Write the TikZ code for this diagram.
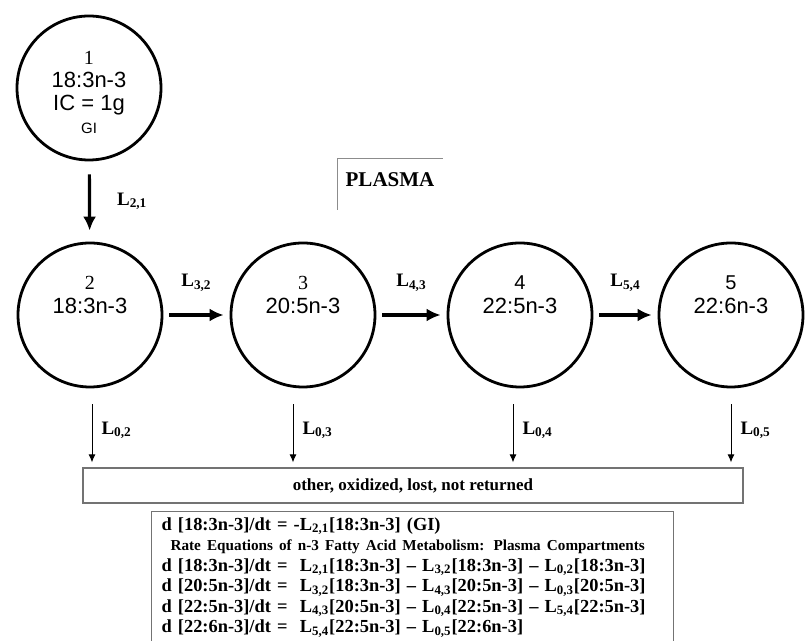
\documentclass[tikz,border=0pt]{standalone}
\usepackage{fontspec}
\setmainfont{Liberation Serif}
\setsansfont{Liberation Sans}
\usetikzlibrary{arrows.meta,calc,positioning}

\begin{document}
\begin{tikzpicture}[x=.5pt,y=-.5pt,>=Latex,
  pool/.style={circle,draw,line width=1.4pt,minimum size=72pt,inner sep=0pt},
  pooltxt/.style={align=center,font=\sffamily\fontsize{11}{12}\selectfont,inner sep=0pt},
  flow/.style={-{Latex[length=7pt,width=6.5pt]},line width=1.6pt,shorten <=3pt,shorten >=3pt},
  loss/.style={-{Latex[length=4pt,width=3.5pt]},line width=.5pt,shorten <=8pt,shorten >=2.5pt},
  rate/.style={font=\bfseries\fontsize{9.5}{11}\selectfont,inner sep=1pt},
  frame/.style={draw=black!55,line width=.6pt}]
 \useasboundingbox (0,0) rectangle (805,641);
 % compartments
 \node[pool] (c1) at (89,88) {};
 \node[pool] (c2) at (90,315) {};
 \node[pool] (c3) at (303,315) {};
 \node[pool] (c4) at (520,315) {};
 \node[pool] (c5) at (731,315) {};
 \node[pooltxt,font=\sffamily\fontsize{11}{11.5}\selectfont] (t1) at ([yshift=-2pt]c1.center)
   {{\rmfamily\fontsize{10}{11.5}\selectfont 1}\\18:3n-3\\IC = 1g\\{\fontsize{7.5}{11.5}\selectfont GI}};
 \node[pooltxt] (t2) at ([yshift=10pt]c2.center) {{\rmfamily\fontsize{10}{12}\selectfont 2}\\18:3n-3};
 \node[pooltxt] (t3) at ([yshift=10pt]c3.center) {{\rmfamily\fontsize{10}{12}\selectfont 3}\\20:5n-3};
 \node[pooltxt] (t4) at ([yshift=10pt]c4.center) {{\fontsize{10}{12}\selectfont 4}\\22:5n-3};
 \node[pooltxt] (t5) at ([yshift=10pt]c5.center) {{\fontsize{10}{12}\selectfont 5}\\22:6n-3};
 \node[font=\bfseries\fontsize{10.5}{12}\selectfont] (plasma) at (390,180) {PLASMA};
 \draw[black!45,line width=.5pt] (337,210) |- (443,159);
 % transfers
 \draw[flow,shorten <=6.5pt,shorten >=5.5pt] (c1) -- node[rate,right=12pt]{L\textsubscript{2,1}} (c2);
 \draw[flow] (c2) -- node[rate,above=10pt]{L\textsubscript{3,2}} (c3);
 \draw[flow] (c3) -- node[rate,above=10pt]{L\textsubscript{4,3}} (c4);
 \draw[flow] (c4) -- node[rate,above=10pt]{L\textsubscript{5,4}} (c5);
 % losses
 \node[frame,minimum width=330pt,minimum height=17.5pt,
   font=\bfseries\fontsize{8.5}{10}\selectfont] (sink) at (413,485.5) {other, oxidized, lost, not returned};
 \foreach \k/\dx in {2/1,3/-5,4/-3.5,5/0}{
  \draw[loss] ([xshift=\dx pt]c\k.south) -- ([xshift=\dx pt]c\k.south |- sink.north)
    node[rate,pos=.53,right=3.5pt]{L\textsubscript{0,\k}};
 }
 % rate equations
 \node[frame,anchor=north west,inner xsep=5pt,inner ysep=3pt,text width=251pt,align=left,
   font=\bfseries\fontsize{9.2}{10.25}\selectfont] (eqs) at (151,511)
   {d [18:3n-3]/dt = -L\textsubscript{2,1}[18:3n-3] (GI)\\
    \mbox{\fontsize{7.6}{10.25}\selectfont\hspace*{4.5pt}Rate Equations of n-3 Fatty Acid Metabolism: Plasma Compartments}\\
    d [18:3n-3]/dt = \ L\textsubscript{2,1}[18:3n-3] – L\textsubscript{3,2}[18:3n-3] – L\textsubscript{0,2}[18:3n-3]\\
    d [20:5n-3]/dt = \ L\textsubscript{3,2}[18:3n-3] – L\textsubscript{4,3}[20:5n-3] – L\textsubscript{0,3}[20:5n-3]\\
    d [22:5n-3]/dt = \ L\textsubscript{4,3}[20:5n-3] – L\textsubscript{0,4}[22:5n-3] – L\textsubscript{5,4}[22:5n-3]\\
    d [22:6n-3]/dt = \ L\textsubscript{5,4}[22:5n-3] – L\textsubscript{0,5}[22:6n-3]\rule[-8pt]{0pt}{8pt}};
\end{tikzpicture}
\end{document}
